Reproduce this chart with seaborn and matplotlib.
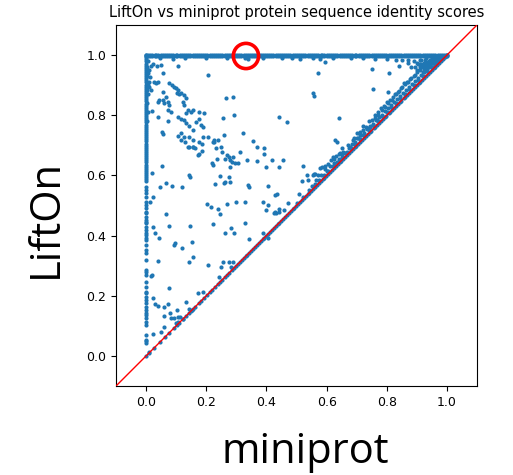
import matplotlib
matplotlib.use("Agg")
import matplotlib.pyplot as plt
import seaborn as sns
import pandas as pd

# ---------------- data ----------------
# dense band of proteins with LiftOn identity = 1.0 (two rows 1.0 / 0.996)
band_rows_y = [1.0, 0.996]
band_x = [0.000, 0.007, 0.013, 0.021, 0.028, 0.034, 0.041, 0.049, 0.055, 0.062, 0.070, 0.077,
          0.083, 0.091, 0.098, 0.104, 0.112, 0.119, 0.126, 0.133, 0.140, 0.147, 0.155, 0.161,
          0.168, 0.176, 0.183, 0.189, 0.197, 0.204, 0.211, 0.218, 0.225, 0.232, 0.240, 0.246,
          0.253, 0.261, 0.268, 0.274, 0.282, 0.289, 0.296, 0.303, 0.310, 0.317, 0.325, 0.331,
          0.338, 0.346, 0.353, 0.359, 0.367, 0.374, 0.381, 0.388, 0.395, 0.402, 0.410, 0.416,
          0.423, 0.431, 0.438, 0.444, 0.452, 0.459, 0.466, 0.473, 0.480, 0.487, 0.495, 0.501,
          0.508, 0.516, 0.523, 0.529, 0.537, 0.544, 0.551, 0.558, 0.565, 0.572, 0.580, 0.586,
          0.593, 0.601, 0.608, 0.614, 0.622, 0.629, 0.636, 0.643, 0.650, 0.657, 0.665, 0.671,
          0.678, 0.686, 0.693, 0.699, 0.707, 0.714, 0.721, 0.728, 0.735, 0.742, 0.750, 0.756,
          0.763, 0.771, 0.778, 0.784, 0.792, 0.799, 0.806, 0.813, 0.820, 0.827, 0.835, 0.841,
          0.848, 0.856, 0.863, 0.869, 0.877, 0.884, 0.891, 0.898, 0.905, 0.912, 0.920, 0.926,
          0.933, 0.941, 0.948, 0.954, 0.962, 0.969, 0.976, 0.983, 0.990, 0.996, 1.000]

# dots just under the band
dip_x = [0.045, 0.090, 0.130, 0.200, 0.270, 0.329, 0.339, 0.389, 0.452, 0.485, 0.512, 0.555,
         0.578, 0.620, 0.680, 0.720, 0.760, 0.800, 0.830, 0.850, 0.870, 0.890, 0.910, 0.930,
         0.950, 0.960]
dip_y = [0.990, 0.988, 0.990, 0.989, 0.990, 0.990, 0.988, 0.990, 0.989, 0.990, 0.988, 0.990,
         0.988, 0.990, 0.989, 0.990, 0.988, 0.987, 0.985, 0.982, 0.985, 0.980, 0.982, 0.978,
         0.980, 0.975]

# proteins with miniprot identity = 0 (column at x = 0)
zero_col_y = [1.000, 0.993, 0.986, 0.979, 0.972, 0.965, 0.958, 0.951, 0.944, 0.937, 0.930,
              0.923, 0.916, 0.909, 0.902, 0.895, 0.888, 0.881, 0.874, 0.867, 0.860, 0.853,
              0.846, 0.839, 0.832, 0.825, 0.818, 0.811, 0.804, 0.797, 0.790, 0.783, 0.776,
              0.769, 0.762, 0.755, 0.748, 0.741, 0.734, 0.727, 0.720, 0.713, 0.706, 0.699,
              0.692, 0.685, 0.678, 0.671, 0.664, 0.657, 0.650, 0.643, 0.636, 0.629, 0.622,
              0.615, 0.608, 0.601, 0.594, 0.587, 0.580, 0.562, 0.551, 0.540, 0.529, 0.513,
              0.502, 0.491, 0.479, 0.474, 0.463, 0.452, 0.446, 0.441, 0.430, 0.419, 0.408,
              0.402, 0.391, 0.385, 0.369, 0.352, 0.341, 0.319, 0.286, 0.280, 0.269, 0.247,
              0.230, 0.213, 0.208, 0.197, 0.186, 0.175, 0.164, 0.153, 0.142, 0.136, 0.125,
              0.114, 0.103, 0.070, 0.053, 0.048, 0.043]

# proteins with identical scores (on the y = x line)
equal_scores = [0.000, 0.011, 0.026, 0.047, 0.062, 0.077, 0.094, 0.103, 0.111, 0.122, 0.133,
                0.141, 0.148, 0.155, 0.164, 0.175, 0.184, 0.194, 0.203, 0.211, 0.219, 0.228,
                0.238, 0.246, 0.253, 0.261, 0.269, 0.277, 0.285, 0.292, 0.299, 0.306, 0.312,
                0.318, 0.324, 0.331, 0.337, 0.343, 0.349, 0.356, 0.362, 0.368, 0.374, 0.381,
                0.387, 0.393, 0.399, 0.406, 0.412, 0.418, 0.424, 0.431, 0.437, 0.443, 0.449,
                0.456, 0.462, 0.468, 0.474, 0.481, 0.487, 0.493, 0.499, 0.506, 0.512, 0.518,
                0.524, 0.531, 0.537, 0.543, 0.549, 0.556, 0.562, 0.568, 0.574, 0.581, 0.587,
                0.593, 0.599, 0.606, 0.612, 0.618, 0.624, 0.631, 0.637, 0.643, 0.649, 0.656,
                0.662, 0.668, 0.674, 0.681, 0.687, 0.693, 0.699, 0.706, 0.712, 0.718, 0.724,
                0.731, 0.737, 0.743, 0.749, 0.756, 0.762, 0.768, 0.774, 0.781, 0.787, 0.793,
                0.799, 0.806, 0.812, 0.818, 0.824, 0.831, 0.837, 0.843, 0.849, 0.856, 0.862,
                0.868, 0.874, 0.881, 0.887, 0.893, 0.899, 0.906, 0.912, 0.918, 0.924, 0.931,
                0.937, 0.943, 0.949, 0.956, 0.962, 0.968, 0.974, 0.981, 0.987, 0.993, 1.000]

# points just above the y = x line
near_x = [0.50, 0.52, 0.54, 0.56, 0.575, 0.59, 0.605, 0.62, 0.635, 0.65, 0.665, 0.68, 0.695,
          0.71, 0.725, 0.74, 0.755, 0.77, 0.785, 0.80, 0.815, 0.83, 0.845, 0.86, 0.875, 0.89,
          0.905, 0.92, 0.935, 0.95, 0.965, 0.98,
          0.55, 0.565, 0.58, 0.60, 0.61, 0.625, 0.64, 0.65, 0.66, 0.675, 0.685, 0.695, 0.705,
          0.715, 0.725, 0.735, 0.745, 0.755, 0.765, 0.775, 0.785, 0.795, 0.805, 0.815, 0.825,
          0.835, 0.845, 0.855, 0.865, 0.875, 0.885, 0.895, 0.905, 0.915, 0.925, 0.935, 0.945,
          0.955, 0.965, 0.975,
          0.70, 0.72, 0.74, 0.76, 0.78, 0.80, 0.82, 0.84, 0.86, 0.88, 0.90, 0.92, 0.94, 0.96,
          0.93, 0.945, 0.955, 0.965, 0.975, 0.985, 0.94, 0.925, 0.96,
          0.57, 0.595, 0.615, 0.645, 0.67, 0.69, 0.71, 0.73, 0.75, 0.77, 0.79, 0.81, 0.83,
          0.85, 0.87, 0.89, 0.91, 0.93,
          0.90, 0.91, 0.915, 0.925, 0.93, 0.935, 0.94, 0.945, 0.95, 0.955, 0.96, 0.965, 0.97,
          0.975, 0.98, 0.985, 0.99, 0.92, 0.95, 0.97, 0.88, 0.87, 0.895]
near_y = [0.508, 0.529, 0.550, 0.571, 0.585, 0.601, 0.615, 0.631, 0.646, 0.661, 0.676, 0.691,
          0.706, 0.721, 0.736, 0.752, 0.766, 0.781, 0.796, 0.812, 0.826, 0.841, 0.856, 0.871,
          0.886, 0.902, 0.916, 0.931, 0.946, 0.961, 0.976, 0.990,
          0.565, 0.585, 0.600, 0.615, 0.630, 0.640, 0.655, 0.670, 0.675, 0.690, 0.705, 0.710,
          0.725, 0.735, 0.740, 0.755, 0.765, 0.770, 0.785, 0.795, 0.800, 0.815, 0.825, 0.835,
          0.845, 0.855, 0.865, 0.875, 0.885, 0.895, 0.905, 0.915, 0.925, 0.935, 0.945, 0.955,
          0.965, 0.975, 0.985, 0.990,
          0.740, 0.765, 0.780, 0.800, 0.825, 0.845, 0.860, 0.880, 0.905, 0.925, 0.945, 0.960,
          0.975, 0.990,
          0.970, 0.985, 0.990, 0.993, 0.985, 0.995, 0.960, 0.955, 0.985,
          0.600, 0.620, 0.650, 0.675, 0.700, 0.725, 0.745, 0.760, 0.785, 0.810, 0.830, 0.850,
          0.870, 0.895, 0.910, 0.930, 0.950, 0.960,
          0.975, 0.970, 0.985, 0.975, 0.990, 0.965, 0.980, 0.970, 0.990, 0.975, 0.970, 0.985,
          0.980, 0.995, 0.985, 0.990, 0.995, 0.945, 0.960, 0.975, 0.960, 0.975, 0.960]

# scattered points
other_x = [0.017, 0.024, 0.036, 0.050, 0.011, 0.006, 0.013, 0.009, 0.011, 0.017, 0.027, 0.033,
           0.039, 0.055, 0.077, 0.086, 0.094, 0.100, 0.105, 0.102, 0.111, 0.116, 0.127, 0.133,
           0.122, 0.105, 0.205, 0.055, 0.039, 0.044, 0.055, 0.066, 0.072, 0.061, 0.077, 0.072,
           0.083, 0.127, 0.138, 0.133, 0.150, 0.155, 0.177, 0.194, 0.020, 0.039, 0.072, 0.105,
           0.116, 0.127, 0.133, 0.144, 0.166, 0.177, 0.183, 0.188, 0.157, 0.116, 0.127, 0.105,
           0.144, 0.155, 0.188, 0.205, 0.227, 0.238, 0.249, 0.260, 0.266, 0.288, 0.255, 0.293,
           0.053, 0.055, 0.138, 0.155, 0.232,
           0.005, 0.006, 0.004, 0.005, 0.006, 0.004, 0.005, 0.004, 0.003, 0.004,
           0.323, 0.357, 0.368, 0.392, 0.392, 0.368, 0.418, 0.399, 0.443, 0.454, 0.174, 0.235,
           0.218, 0.224, 0.251, 0.268, 0.274, 0.262, 0.279, 0.290, 0.285, 0.296, 0.307, 0.279,
           0.312, 0.334, 0.175, 0.186, 0.155, 0.163, 0.144, 0.131, 0.116, 0.177, 0.186, 0.222,
           0.225,
           0.052, 0.021, 0.141, 0.146, 0.246, 0.274, 0.262, 0.047, 0.066, 0.086, 0.119, 0.230,
           0.258, 0.280, 0.338, 0.343, 0.406, 0.429, 0.436, 0.024, 0.523, 0.517,
           0.595, 0.573, 0.750, 0.809, 0.841, 0.905, 0.916, 0.556, 0.558, 0.753, 0.803, 0.642,
           0.443, 0.469, 0.534, 0.558, 0.539, 0.578, 0.584, 0.595, 0.606, 0.628, 0.634, 0.620,
           0.630, 0.640, 0.625,
           0.650, 0.656, 0.667, 0.678, 0.689, 0.700, 0.711, 0.722, 0.733, 0.744, 0.761, 0.766,
           0.772, 0.783, 0.794, 0.805, 0.816, 0.827, 0.838, 0.849, 0.857, 0.866, 0.877, 0.894,
           0.899, 0.910, 0.921, 0.927,
           0.509, 0.473, 0.460, 0.443, 0.443, 0.429, 0.399, 0.390, 0.406, 0.425, 0.432, 0.388,
           0.406, 0.556, 0.561,
           0.013, 0.024, 0.030, 0.043, 0.066, 0.077, 0.093, 0.096, 0.119, 0.146, 0.152, 0.041,
           0.141, 0.155, 0.016, 0.019, 0.204, 0.215, 0.240, 0.246, 0.270, 0.299, 0.329, 0.224,
           0.262, 0.281, 0.292, 0.329, 0.342, 0.207, 0.248, 0.257, 0.276, 0.281, 0.288, 0.243,
           0.077, 0.024, 0.030, 0.039, 0.061, 0.074, 0.133, 0.174, 0.190, 0.058, 0.080, 0.083,
           0.094, 0.102, 0.107, 0.113, 0.124, 0.143, 0.152, 0.060, 0.050, 0.024, 0.100, 0.105,
           0.011]
other_y = [0.963, 0.970, 0.963, 0.967, 0.950, 0.939, 0.926, 0.912, 0.895, 0.884, 0.912, 0.906,
           0.912, 0.939, 0.906, 0.900, 0.895, 0.889, 0.884, 0.873, 0.869, 0.873, 0.867, 0.856,
           0.845, 0.963, 0.934, 0.878, 0.845, 0.850, 0.850, 0.860, 0.845, 0.840, 0.834, 0.817,
           0.812, 0.834, 0.817, 0.806, 0.812, 0.817, 0.812, 0.808, 0.815, 0.795, 0.782, 0.795,
           0.786, 0.784, 0.773, 0.764, 0.778, 0.786, 0.767, 0.760, 0.751, 0.740, 0.727, 0.731,
           0.729, 0.718, 0.729, 0.729, 0.712, 0.718, 0.696, 0.734, 0.856, 0.862, 0.790, 0.800,
           0.745, 0.737, 0.694, 0.694, 0.690,
           0.980, 0.950, 0.930, 0.900, 0.870, 0.840, 0.810, 0.780, 0.960, 0.885,
           0.740, 0.716, 0.693, 0.690, 0.671, 0.649, 0.651, 0.627, 0.629, 0.651, 0.668, 0.656,
           0.640, 0.635, 0.679, 0.668, 0.662, 0.656, 0.651, 0.662, 0.646, 0.640, 0.642, 0.629,
           0.679, 0.651, 0.671, 0.680, 0.695, 0.690, 0.693, 0.712, 0.718, 0.712, 0.704, 0.712,
           0.718,
           0.632, 0.609, 0.601, 0.596, 0.598, 0.596, 0.577, 0.563, 0.574, 0.565, 0.563, 0.570,
           0.576, 0.579, 0.568, 0.560, 0.566, 0.535, 0.538, 0.529, 0.632, 0.581,
           0.978, 0.941, 0.955, 0.941, 0.963, 0.970, 0.963, 0.875, 0.864, 0.887, 0.878, 0.790,
           0.793, 0.779, 0.601, 0.605, 0.585, 0.623, 0.629, 0.632, 0.638, 0.718, 0.712, 0.660,
           0.665, 0.672, 0.655,
           0.690, 0.679, 0.679, 0.696, 0.718, 0.723, 0.734, 0.751, 0.756, 0.762, 0.790, 0.784,
           0.801, 0.819, 0.828, 0.842, 0.850, 0.870, 0.878, 0.889, 0.906, 0.911, 0.922, 0.934,
           0.950, 0.961, 0.972, 0.983,
           0.537, 0.507, 0.485, 0.490, 0.479, 0.477, 0.485, 0.510, 0.502, 0.476, 0.476, 0.407,
           0.391, 0.603, 0.606,
           0.513, 0.430, 0.410, 0.393, 0.472, 0.432, 0.369, 0.376, 0.358, 0.432, 0.380, 0.316,
           0.313, 0.330, 0.266, 0.269, 0.505, 0.494, 0.487, 0.471, 0.505, 0.510, 0.513, 0.437,
           0.410, 0.424, 0.410, 0.441, 0.388, 0.302, 0.297, 0.313, 0.313, 0.297, 0.313, 0.261,
           0.225, 0.192, 0.172, 0.167, 0.164, 0.172, 0.180, 0.208, 0.214, 0.133, 0.144, 0.125,
           0.125, 0.151, 0.128, 0.131, 0.123, 0.156, 0.153, 0.097, 0.081, 0.073, 0.109, 0.114,
           0.014]

# highlighted protein (red circle)
highlight_x = [0.332]
highlight_y = [0.997]

title = "LiftOn vs miniprot protein sequence identity scores"
x_label = "miniprot"
y_label = "LiftOn"
ticks = [0.0, 0.2, 0.4, 0.6, 0.8, 1.0]

# ---------------- build table ----------------
mini, lift = [], []
for yv in band_rows_y:
    mini += band_x
    lift += [yv] * len(band_x)
mini += dip_x; lift += dip_y
mini += [0.0] * len(zero_col_y); lift += zero_col_y
mini += equal_scores; lift += equal_scores
mini += near_x; lift += near_y
mini += other_x; lift += other_y
df = pd.DataFrame({"miniprot": mini, "LiftOn": lift})

# ---------------- plot ----------------
fig = plt.figure(figsize=(5.13, 4.75), dpi=100)
ax = fig.add_axes([116 / 513, 1 - 386 / 475, 361 / 513, 361 / 475])

sns.scatterplot(data=df, x="miniprot", y="LiftOn", s=9, linewidth=0,
                color="#1f77b4", ax=ax, zorder=2)
ax.axline((0, 0), slope=1, color="red", lw=1.0, zorder=3)
ax.scatter(highlight_x, highlight_y, s=330, facecolors="none",
           edgecolors="red", linewidths=2.6, zorder=4)

ax.set_xlim(-0.1, 1.1)
ax.set_ylim(-0.1, 1.1)
ax.set_xticks(ticks)
ax.set_yticks(ticks)
ax.tick_params(labelsize=9)
ax.set_title(title, fontsize=10.5)
ax.set_xlabel(x_label, fontsize=30, family="Open Sans", labelpad=16)
ax.set_ylabel(y_label, fontsize=30, family="Open Sans", labelpad=14)
ax.xaxis.label.set_x(0.525)
ax.yaxis.label.set_y(0.465)

fig.savefig("out.png", dpi=100)
